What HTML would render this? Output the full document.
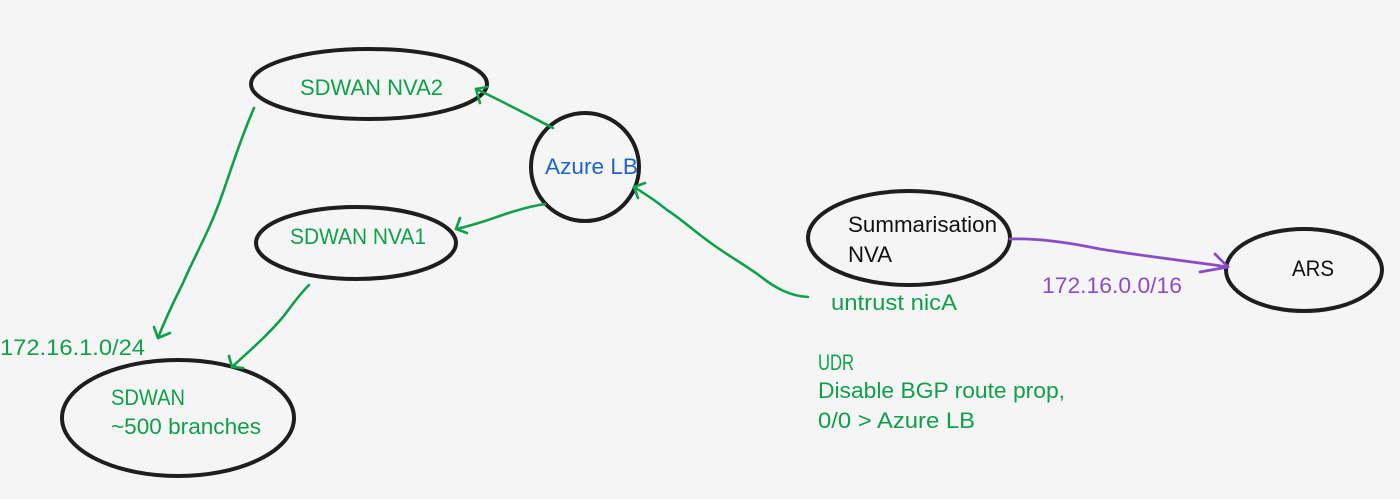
<!DOCTYPE html>
<html><head><meta charset="utf-8"><style>
html,body{margin:0;padding:0;background:#f5f5f5;}
svg{display:block;}
text{font-family:"Liberation Sans",sans-serif;font-size:22px;}
</style></head><body>
<svg width="1400" height="499" viewBox="0 0 1400 499" xmlns="http://www.w3.org/2000/svg">
<rect width="1400" height="499" fill="#f5f5f5"/>
<g fill="none" stroke="#1e1e1e" stroke-width="4">
<ellipse cx="369" cy="84" rx="118" ry="35"/>
<ellipse cx="585" cy="167" rx="54" ry="54"/>
<ellipse cx="356" cy="243" rx="100" ry="36"/>
<ellipse cx="178" cy="418" rx="116" ry="58"/>
<ellipse cx="909" cy="238" rx="101" ry="47"/>
<ellipse cx="1304" cy="270" rx="78" ry="41"/>
</g>
<g fill="none" stroke="#10a04a" stroke-width="2.6" stroke-linecap="round" stroke-linejoin="round">
<path d="M254,108 C240,140 230,173 222,195 C210,230 195,255 183,283 C172,305 163,325 158,338"/>
<path d="M154,327 L158,338 L170,333"/>
<path d="M309,285 C298,296 290,308 283,317 C265,338 248,352 232,367"/>
<path d="M229,356 L232,367 L243,368"/>
<path d="M553,128 C530,116 500,100 476,89"/>
<path d="M487,87 L476,89 L480,103"/>
<path d="M545,204 C520,208 500,216 485,221 C472,225 462,228 456,229"/>
<path d="M460,218 L456,229 L467,233"/>
<path d="M808,297 C790,296 775,288 760,276 C745,265 732,258 715,246 C695,232 680,218 667,210 C655,200 642,192 634,187"/>
<path d="M645,183 L634,187 L638,198"/>
</g>
<g fill="none" stroke="#8c4cc8" stroke-width="2.8" stroke-linecap="round" stroke-linejoin="round">
<path d="M1010,239 C1040,238 1070,243 1100,249 C1150,257 1195,262 1228,267"/>
<path d="M1215,254 L1228,267 L1200,272"/>
</g>
<g fill="#10a04a">
<text x="300" y="95" textLength="143" lengthAdjust="spacingAndGlyphs">SDWAN NVA2</text>
<text x="290" y="244" textLength="136" lengthAdjust="spacingAndGlyphs">SDWAN NVA1</text>
<text x="0" y="355" textLength="145" lengthAdjust="spacingAndGlyphs">172.16.1.0/24</text>
<text x="111" y="405" textLength="74" lengthAdjust="spacingAndGlyphs">SDWAN</text>
<text x="111" y="434" textLength="150" lengthAdjust="spacingAndGlyphs">~500 branches</text>
<text x="831" y="310" textLength="126" lengthAdjust="spacingAndGlyphs">untrust nicA</text>
<text x="818" y="370" textLength="36" lengthAdjust="spacingAndGlyphs">UDR</text>
<text x="818" y="398" textLength="247" lengthAdjust="spacingAndGlyphs">Disable BGP route prop,</text>
<text x="818" y="428" textLength="157" lengthAdjust="spacingAndGlyphs">0/0 &gt; Azure LB</text>
</g>
<text x="545" y="174" fill="#1e64c8" textLength="93" lengthAdjust="spacingAndGlyphs">Azure LB</text>
<g fill="#111">
<text x="848" y="232" textLength="149" lengthAdjust="spacingAndGlyphs">Summarisation</text>
<text x="848" y="262" textLength="44" lengthAdjust="spacingAndGlyphs">NVA</text>
<text x="1292" y="276" textLength="42" lengthAdjust="spacingAndGlyphs">ARS</text>
</g>
<text x="1042" y="293" fill="#8c4cc8" textLength="140" lengthAdjust="spacingAndGlyphs">172.16.0.0/16</text>
</svg>
</body></html>
